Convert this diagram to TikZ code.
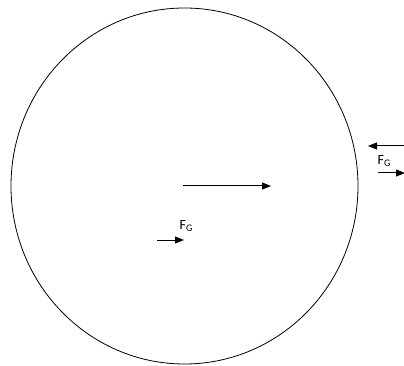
\documentclass[tikz,border=0pt]{standalone}
\usepackage{fontspec}
\setmainfont{Carlito}
\usetikzlibrary{arrows.meta}
\newcommand{\fgsub}{F\raisebox{-2.2pt}{\fontsize{10}{12}\selectfont G}}
\begin{document}
\begin{tikzpicture}[x=1pt,y=-1pt,
  force/.style={line width=1pt,-{Triangle[length=9pt,width=7pt]}},
  lbl/.style={inner sep=0pt,font=\fontsize{14}{16}\selectfont}]
\useasboundingbox (0,0) rectangle (404,366);
\draw[line width=0.8pt] (184.5,186) ellipse [x radius=173.5, y radius=178];
\coordinate (c1) at (183,186);
\coordinate (c2) at (271,186);
\draw[force] (c1) -- (c2);
\coordinate (s1) at (157,240);
\coordinate (s2) at (184,240);
\draw[force] (s1) -- (s2);
\node[lbl] (fg1) at (186,226) {\fgsub};
\coordinate (r1) at (405,146);
\coordinate (r2) at (368,146);
\draw[force] (r1) -- (r2);
\node[lbl] (fg2) at (384,161) {\fgsub};
\coordinate (q1) at (378,173);
\coordinate (q2) at (405,173);
\draw[force] (q1) -- (q2);
\end{tikzpicture}
\end{document}
